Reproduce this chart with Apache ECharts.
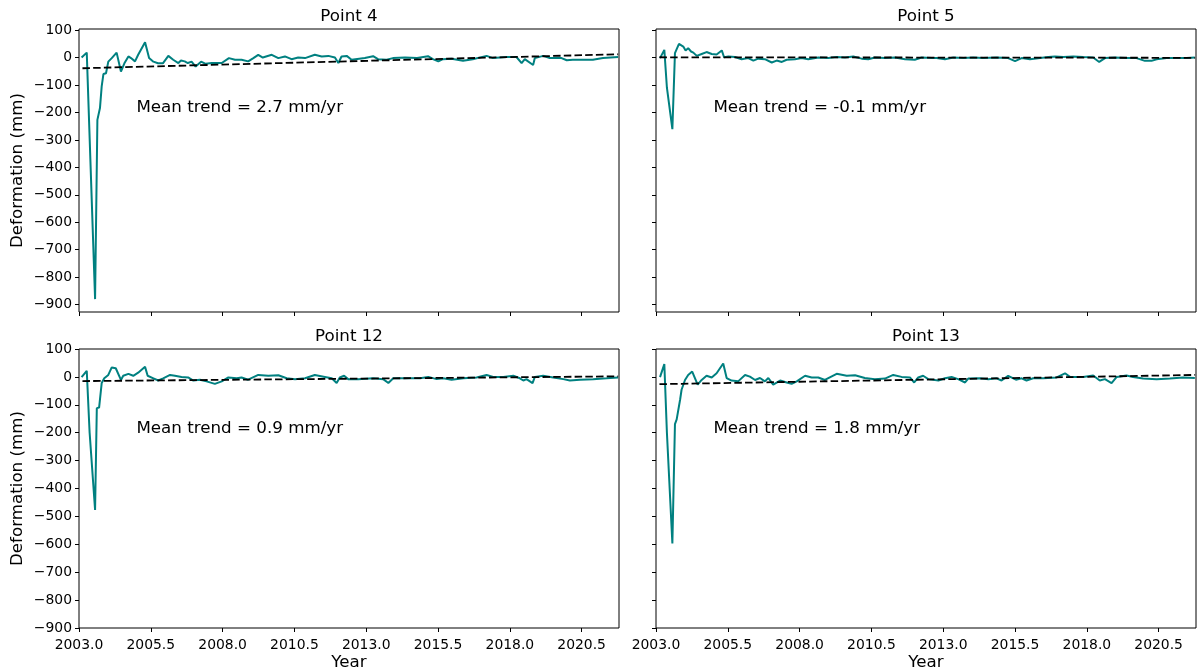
<!DOCTYPE html>
<html>
<head>
    <meta charset="utf-8">
    <title>Deformation</title>
    <script src="https://cdn.jsdelivr.net/npm/echarts@6/dist/echarts.min.js"></script>
</head>
<body style="margin:0;background:#fff;">
    <div id="main" style="width:1204px;height:672px;"></div>
    <script type="text/javascript">
        // titles, annotation texts and ticks
        var titles = ['Point 4', 'Point 5', 'Point 12', 'Point 13'];
        var trendTexts = ['Mean trend = 2.7 mm/yr', 'Mean trend = -0.1 mm/yr', 'Mean trend = 0.9 mm/yr', 'Mean trend = 1.8 mm/yr'];
        var xTicks = [2003.0, 2005.5, 2008.0, 2010.5, 2013.0, 2015.5, 2018.0, 2020.5];
        var yTicks = [-900, -800, -700, -600, -500, -400, -300, -200, -100, 0, 100];

        // deformation series [year, mm]
        var point4 = [[2003.09, 0], [2003.27, 18], [2003.30, 15], [2003.56, -880], [2003.64, -227], [2003.73, -184],
            [2003.79, -105], [2003.85, -60], [2003.94, -57], [2004.02, -15], [2004.14, -2], [2004.31, 18], [2004.46, -51],
            [2004.58, -21], [2004.72, 4], [2004.81, -2], [2004.95, -14], [2005.06, 10], [2005.30, 56], [2005.44, -2],
            [2005.59, -15], [2005.75, -21], [2005.92, -21], [2006.11, 6], [2006.28, -8], [2006.46, -20], [2006.55, -11],
            [2006.68, -14], [2006.79, -20], [2006.92, -15], [2007.06, -33], [2007.25, -15], [2007.41, -23], [2007.62, -20],
            [2007.97, -20], [2008.22, -2], [2008.43, -8], [2008.66, -8], [2008.89, -14], [2009.07, -2], [2009.24, 10],
            [2009.40, 0], [2009.71, 10], [2009.94, -2], [2010.17, 4], [2010.40, -6], [2010.63, 0], [2010.87, -2],
            [2011.21, 10], [2011.45, 4], [2011.68, 6], [2011.91, 0], [2012.03, -20], [2012.14, 4], [2012.32, 6],
            [2012.49, -8], [2012.95, -2], [2013.24, 5], [2013.41, -6], [2013.71, -8], [2013.93, -2], [2014.35, 0],
            [2014.77, -2], [2015.15, 5], [2015.32, -6], [2015.51, -14], [2015.67, -6], [2015.97, -4], [2016.37, -12],
            [2016.71, -6], [2017.19, 6], [2017.41, -2], [2017.89, 2], [2018.23, 2], [2018.41, -20], [2018.52, -6],
            [2018.81, -27], [2018.87, -2], [2019.16, 6], [2019.39, -2], [2019.80, -2], [2019.98, -10], [2020.19, -8],
            [2020.54, -8], [2020.89, -8], [2021.24, -2], [2021.77, 2]];

        var point5 = [[2003.14, -2], [2003.29, 28], [2003.38, -110], [2003.57, -261], [2003.66, 16], [2003.80, 50],
            [2003.95, 40], [2004.03, 26], [2004.12, 34], [2004.22, 22], [2004.30, 18], [2004.42, 6], [2004.59, 13],
            [2004.76, 20], [2004.94, 13], [2005.11, 11], [2005.29, 26], [2005.37, 1], [2005.52, 4], [2005.75, 2],
            [2005.98, -6], [2006.21, -2], [2006.39, -11], [2006.56, -4], [2006.79, -6], [2007.03, -18], [2007.20, -11],
            [2007.38, -16], [2007.55, -8], [2007.84, -6], [2008.07, -2], [2008.30, -6], [2008.65, 0], [2009.00, -2],
            [2009.29, 2], [2009.58, 0], [2009.87, 4], [2010.16, -4], [2010.39, -6], [2010.62, 0], [2010.97, -2],
            [2011.32, 0], [2011.67, -6], [2012.01, -8], [2012.25, 0], [2012.60, -2], [2012.77, -2], [2013.06, -6],
            [2013.35, 0], [2013.70, -2], [2014.04, 0], [2014.39, -2], [2014.86, 0], [2015.26, -2], [2015.50, -13],
            [2015.73, -2], [2016.02, -6], [2016.37, -2], [2016.66, 2], [2016.89, 4], [2017.18, 2], [2017.53, 4],
            [2017.87, 2], [2018.22, 0], [2018.43, -16], [2018.63, -2], [2018.98, 0], [2019.38, -2], [2019.73, -2],
            [2020.02, -12], [2020.25, -12], [2020.43, -6], [2020.78, -2], [2021.12, -2], [2021.47, -2], [2021.76, 0]];

        var point12 = [[2003.09, -1], [2003.27, 22], [2003.37, -200], [2003.56, -477], [2003.62, -112], [2003.70, -110],
            [2003.79, -22], [2003.88, -5], [2004.02, 7], [2004.14, 34], [2004.28, 31], [2004.46, -11], [2004.54, 4],
            [2004.72, 11], [2004.89, 4], [2005.06, 15], [2005.30, 36], [2005.39, 4], [2005.59, -5], [2005.76, -13],
            [2005.93, -5], [2006.17, 7], [2006.34, 4], [2006.57, 0], [2006.80, -2], [2006.98, -13], [2007.21, -10],
            [2007.44, -16], [2007.73, -25], [2007.97, -16], [2008.20, -2], [2008.49, -5], [2008.66, -2], [2008.89, -10],
            [2009.24, 7], [2009.59, 4], [2009.94, 6], [2010.23, -5], [2010.52, -8], [2010.87, -5], [2011.21, 7],
            [2011.56, 0], [2011.80, -5], [2011.97, -22], [2012.08, -2], [2012.23, 4], [2012.37, -8], [2012.43, -13],
            [2012.72, -8], [2013.24, -5], [2013.59, -8], [2013.77, -22], [2013.94, -5], [2014.41, -5], [2014.87, -5],
            [2015.16, 0], [2015.45, -8], [2015.68, -5], [2015.97, -10], [2016.38, -5], [2016.84, -2], [2017.19, 7],
            [2017.42, 0], [2017.77, 0], [2018.12, 4], [2018.35, -5], [2018.47, -13], [2018.58, -8], [2018.79, -22],
            [2018.87, 0], [2019.16, 4], [2019.51, -2], [2019.86, -8], [2020.09, -13], [2020.44, -10], [2020.90, -8],
            [2021.37, -5], [2021.77, -2]];

        var point13 = [[2003.14, -1], [2003.29, 46], [2003.38, -200], [2003.57, -597], [2003.66, -169], [2003.72, -152],
            [2003.84, -81], [2003.89, -46], [2004.01, -11], [2004.12, 7], [2004.26, 19], [2004.32, 17], [2004.45, -28],
            [2004.59, -11], [2004.76, 4], [2004.94, -2], [2005.11, 13], [2005.34, 48], [2005.46, -4], [2005.63, -13],
            [2005.86, -16], [2006.10, 7], [2006.27, 1], [2006.45, -11], [2006.62, -4], [2006.79, -16], [2006.91, -4],
            [2007.08, -28], [2007.32, -13], [2007.55, -20], [2007.72, -25], [2007.90, -16], [2008.19, 4], [2008.42, -2],
            [2008.65, -2], [2008.88, -11], [2009.29, 11], [2009.64, 4], [2009.93, 6], [2010.27, -4], [2010.62, -8],
            [2010.97, -6], [2011.26, 7], [2011.55, 0], [2011.84, -2], [2011.99, -20], [2012.13, -2], [2012.30, 4],
            [2012.48, -8], [2012.83, -13], [2013.06, -5], [2013.29, 0], [2013.52, -8], [2013.76, -20], [2013.87, -6],
            [2014.28, -5], [2014.57, -8], [2014.86, -5], [2015.03, -13], [2015.26, 4], [2015.53, -10], [2015.73, -5],
            [2015.90, -13], [2016.13, -5], [2016.48, -5], [2016.95, -2], [2017.24, 13], [2017.41, 0], [2017.87, 0],
            [2018.22, 5], [2018.45, -13], [2018.63, -8], [2018.86, -22], [2019.04, 0], [2019.38, 5], [2019.61, 0],
            [2019.96, -6], [2020.43, -8], [2020.89, -6], [2021.35, -2], [2021.76, -4]];

        // linear trend end points
        var trendYears = [2003.12, 2021.77];
        var trend4 = [-39, 12];
        var trend5 = [1, -1];
        var trend12 = [-15, 2];
        var trend13 = [-26, 7];

        var points = [point4, point5, point12, point13];
        var trends = [trend4, trend5, trend12, trend13];

        var font = 'DejaVu Sans';
        var grids = [
            {left: 79, top: 29, width: 540, height: 283},
            {left: 656, top: 29, width: 540, height: 283},
            {left: 79, top: 349, width: 540, height: 283},
            {left: 656, top: 349, width: 540, height: 283}
        ];
        var yRanges = [[-927, 104], [-927, 104], [-900, 100], [-900, 100]];

        function fmtY(v) {
            return v < 0 ? '\u2212' + Math.abs(v) : String(v);
        }

        var myChart = echarts.init(document.getElementById('main'), null, {renderer: 'canvas'});

        var option = {
            backgroundColor: '#fff',
            animation: false,
            title: [],
            grid: [],
            xAxis: [],
            yAxis: [],
            series: []
        };

        grids.forEach(function (g, i) {
            var bottomRow = i >= 2;
            var leftCol = i % 2 === 0;
            option.grid.push({
                left: g.left, top: g.top, width: g.width, height: g.height,
                show: true, borderColor: '#000', borderWidth: 1, backgroundColor: 'transparent'
            });
            option.title.push({
                text: titles[i],
                left: g.left + g.width / 2,
                top: g.top - 21,
                textAlign: 'center',
                padding: 0,
                textStyle: {fontFamily: font, fontSize: 16.7, fontWeight: 'normal', color: '#000'}
            });
            option.xAxis.push({
                type: 'value',
                gridIndex: i,
                position: 'bottom',
                min: 2003.0,
                max: 2021.8,
                name: bottomRow ? 'Year' : '',
                nameLocation: 'middle',
                nameGap: 26,
                nameTextStyle: {fontFamily: font, fontSize: 16.7, color: '#000'},
                axisLine: {show: false, onZero: false},
                splitLine: {show: false},
                axisTick: {show: true, inside: false, length: 4, customValues: xTicks,
                    lineStyle: {color: '#000', width: 1}},
                axisLabel: {show: bottomRow, customValues: xTicks, margin: 10,
                    fontFamily: font, fontSize: 13.9, color: '#000',
                    formatter: function (v) { return v.toFixed(1); }}
            });
            option.yAxis.push({
                type: 'value',
                gridIndex: i,
                position: 'left',
                min: yRanges[i][0],
                max: yRanges[i][1],
                name: leftCol ? 'Deformation (mm)' : '',
                nameLocation: 'middle',
                nameGap: 53,
                nameTextStyle: {fontFamily: font, fontSize: 16.7, color: '#000'},
                axisLine: {show: false, onZero: false},
                splitLine: {show: false},
                axisTick: {show: true, inside: false, length: 4, customValues: yTicks,
                    lineStyle: {color: '#000', width: 1}},
                axisLabel: {show: leftCol, customValues: yTicks, margin: 7,
                    fontFamily: font, fontSize: 13.9, color: '#000', formatter: fmtY}
            });

            option.series.push({
                type: 'line',
                xAxisIndex: i, yAxisIndex: i,
                data: points[i],
                showSymbol: false,
                lineStyle: {color: '#008080', width: 2},
                z: 2
            });
            option.series.push({
                type: 'line',
                xAxisIndex: i, yAxisIndex: i,
                data: [[trendYears[0], trends[i][0]], [trendYears[1], trends[i][1]]],
                showSymbol: false,
                lineStyle: {color: '#000', width: 1.8, type: [7.5, 3.2]},
                z: 3
            });
            option.series.push({
                type: 'scatter',
                xAxisIndex: i, yAxisIndex: i,
                data: [[2005.0, -200]],
                symbolSize: 0,
                silent: true,
                itemStyle: {opacity: 1},
                label: {
                    show: true,
                    position: [0, 0],
                    align: 'left',
                    verticalAlign: 'bottom',
                    offset: [0, 4],
                    formatter: trendTexts[i],
                    fontFamily: font, fontSize: 16.7, color: '#000', opacity: 1
                },
                z: 4
            });
        });

        myChart.setOption(option);
    </script>
</body>
</html>
